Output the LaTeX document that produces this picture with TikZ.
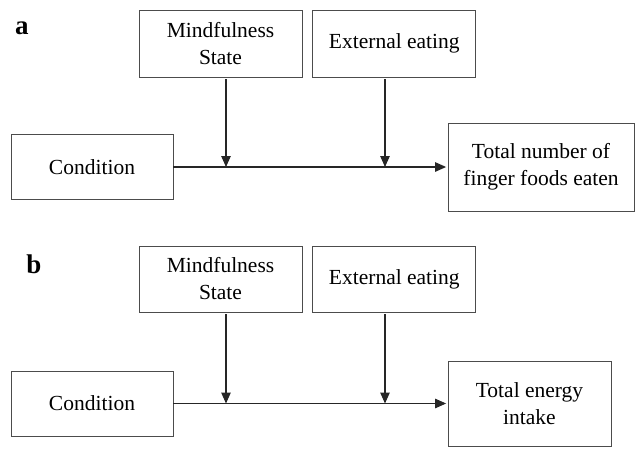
\documentclass[tikz,border=0pt]{standalone}
\usepackage{fontspec}
\setmainfont{Liberation Serif}
\usetikzlibrary{arrows.meta, positioning}

\begin{document}
\begin{tikzpicture}[x=1pt, y=-1pt,
    box/.style={rectangle, draw=black!70, line width=0.8pt, align=center, inner sep=0pt, font=\fontsize{21.5}{27}\selectfont},
    md/.style={box, minimum width=163pt, minimum height=67pt},
    cn/.style={box, minimum width=162pt, minimum height=65pt},
    ar/.style={-{Triangle[length=11pt, width=9.5pt]}, line width=1.1pt, black!85},
    lb/.style={font=\bfseries\fontsize{27}{27}\selectfont},
]
    \useasboundingbox (0,0) rectangle (635,448);
    % Panel a
    \node [lb] (la) at (22,28) {a};
    \node [md] (mindA) at (220.5,43.5) {Mindfulness\\State};
    \node [md, right=10pt of mindA] (extA) {External eating};
    \node [cn] (condA) at (92,167) {Condition};
    \node [box, minimum width=186pt, minimum height=88pt] (totA) at (541,167) {Total number of\\finger foods eaten};
    \coordinate (jA1) at (226,167);
    \coordinate (jA2) at (385,167);
    \draw [ar, shorten >=1.5pt] (condA) -- (totA);
    \draw [ar, shorten <=2pt] (mindA.south -| jA1) -- (jA1);
    \draw [ar, shorten <=2pt] (extA.south -| jA2) -- (jA2);
    % Panel b
    \node [lb] (lbb) at (34,264) {b};
    \node [md, minimum height=66pt] (mindB) at (220.5,279) {Mindfulness\\State};
    \node [md, minimum height=66pt, right=10pt of mindB] (extB) {External eating};
    \node [cn] (condB) at (92,403.5) {Condition};
    \node [box, minimum width=163pt, minimum height=85pt] (totB) at (529.5,403.5) {Total energy\\intake};
    \coordinate (jB1) at (226,403.5);
    \coordinate (jB2) at (385,403.5);
    \draw [ar, shorten >=1.5pt] (condB) -- (totB);
    \draw [ar, shorten <=2pt] (mindB.south -| jB1) -- (jB1);
    \draw [ar, shorten <=2pt] (extB.south -| jB2) -- (jB2);
\end{tikzpicture}
\end{document}
